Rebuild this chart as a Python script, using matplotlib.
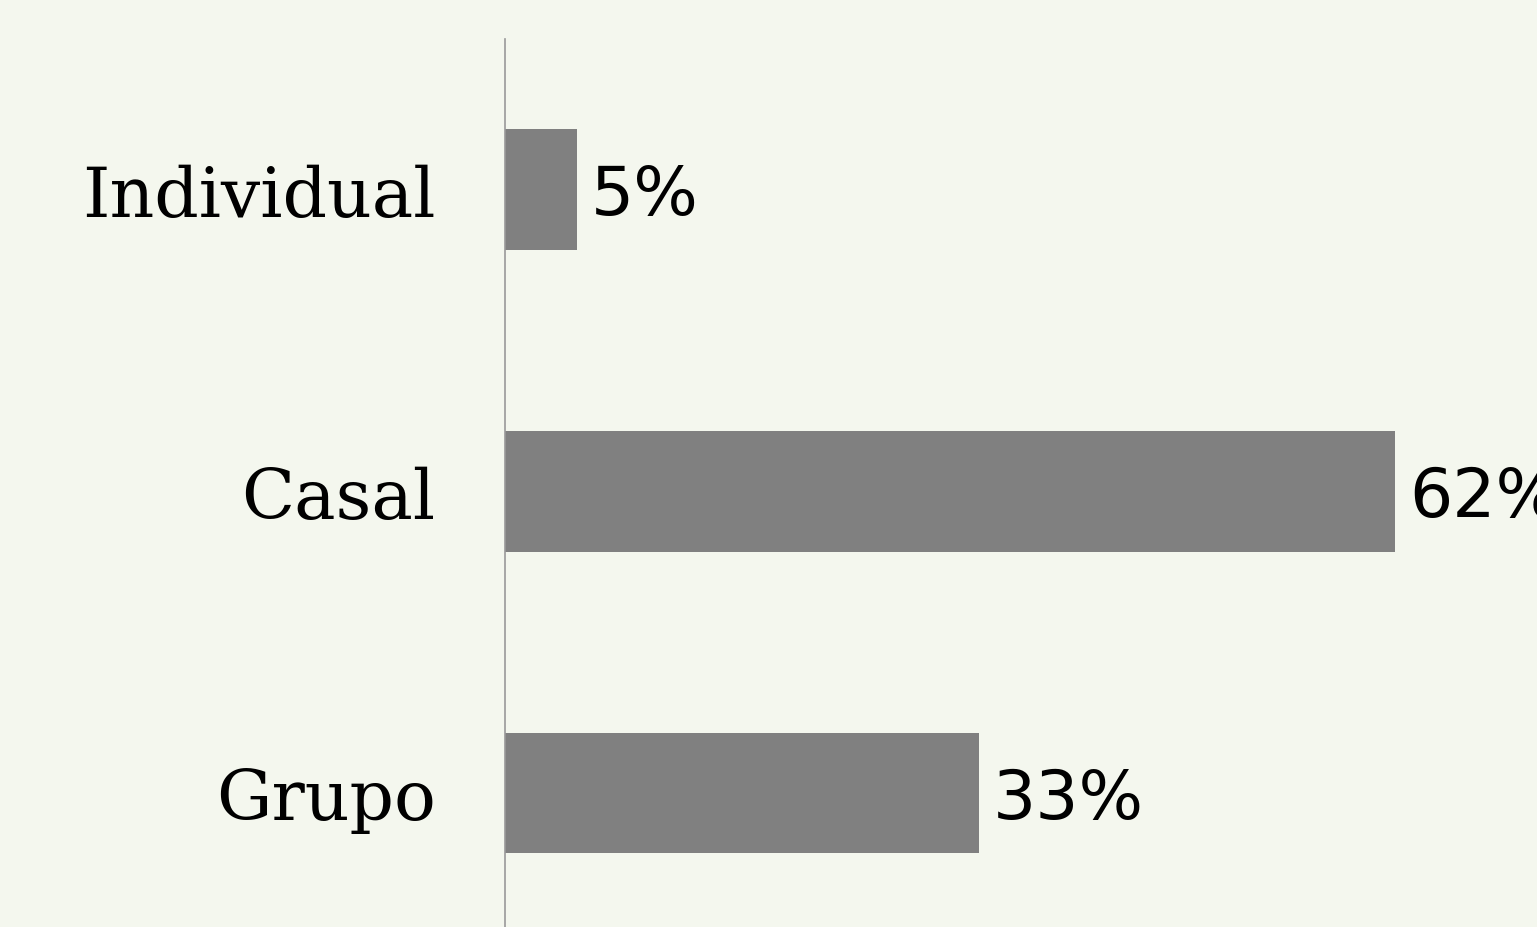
import matplotlib
matplotlib.use("Agg")
import matplotlib.pyplot as plt

# data
categories = ["Individual", "Casal", "Grupo"]
values = [5, 62, 33]
value_labels = ["5%", "62%", "33%"]

bg = "#f4f7ee"
bar_color = "#808080"

fig = plt.figure(figsize=(15.37, 9.28), dpi=100, facecolor=bg)
ax = fig.add_axes([505 / 1537, 0, 1 - 505 / 1537, 1 - 40 / 928])
ax.set_facecolor(bg)

ypos = list(range(len(categories)))
ax.barh(ypos, values, height=0.4, color=bar_color)

for y, v, lab in zip(ypos, values, value_labels):
    ax.text(v + 1.0, y + 0.018, lab, va="center", ha="left", fontsize=49,
            family="DejaVu Sans", color="black", clip_on=False)

ax.set_xlim(0, 71.9)
ax.set_ylim(2.444, -0.5)
ax.set_yticks(ypos)
ax.set_yticklabels(categories, fontsize=50, family="DejaVu Serif")
ax.tick_params(axis="y", length=0, pad=50)
ax.set_xticks([])

for s in ["top", "right", "bottom"]:
    ax.spines[s].set_visible(False)
ax.spines["left"].set_color("#999999")
ax.spines["left"].set_linewidth(1.2)

fig.savefig("out.png", dpi=100, facecolor=bg)
